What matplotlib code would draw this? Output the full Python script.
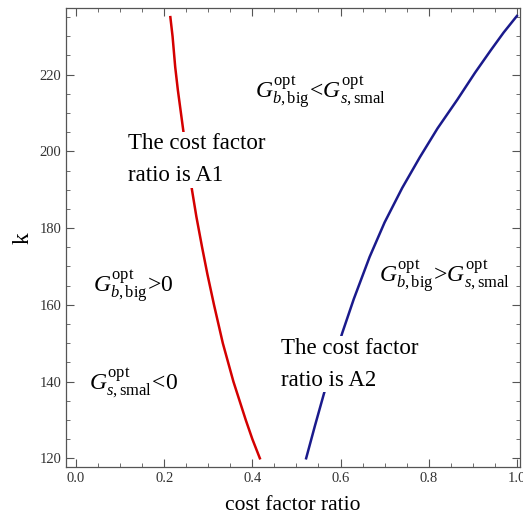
import numpy as np
import matplotlib
matplotlib.use("Agg")
import matplotlib.pyplot as plt
from matplotlib.ticker import MultipleLocator

plt.rcParams['font.family'] = 'Liberation Serif'
plt.rcParams['mathtext.fontset'] = 'custom'
plt.rcParams['mathtext.rm'] = 'Liberation Serif'
plt.rcParams['mathtext.it'] = 'Liberation Serif:italic'

# boundary where the cost factor ratio equals A1
a1_ratio = [0.214, 0.219, 0.225, 0.231, 0.238, 0.245, 0.253, 0.263, 0.273,
            0.286, 0.298, 0.313, 0.333, 0.357, 0.385, 0.400, 0.417]
a1_k = [235, 230, 222, 216, 210, 204, 198, 190, 183,
        175, 168, 160, 150, 140, 130, 125, 120]

# boundary where the cost factor ratio equals A2
a2_ratio = [0.522, 0.542, 0.562, 0.583, 0.604, 0.630, 0.666, 0.700,
            0.740, 0.780, 0.820, 0.865, 0.905, 0.941, 0.970, 1.000]
a2_k = [120, 128.5, 136.7, 145, 152.7, 161.5, 172.5, 181.5,
        190.5, 198.5, 206, 213.5, 220.5, 226.4, 231, 235.3]

fig = plt.figure(figsize=(5.23, 5.23), dpi=100)
ax = fig.add_axes([0.1262, 0.1065, 0.868, 0.8776])

ax.plot(a1_ratio, a1_k, color='#d40000', lw=1.8)
ax.plot(a2_ratio, a2_k, color='#1a1a8c', lw=1.8)

ax.set_xlim(-0.0227, 1.007)
ax.set_ylim(117.65, 237.3)

ax.xaxis.set_major_locator(MultipleLocator(0.2))
ax.xaxis.set_minor_locator(MultipleLocator(0.05))
ax.yaxis.set_major_locator(MultipleLocator(20))
ax.yaxis.set_minor_locator(MultipleLocator(5))
ax.xaxis.set_major_formatter(plt.FuncFormatter(lambda v, p: f"{v:.1f}"))
ax.tick_params(which='both', direction='in', top=True, right=True,
               color='#555555', labelcolor='#333333', labelsize=10.5)
ax.tick_params(which='major', length=6, width=0.8)
ax.tick_params(which='minor', length=3, width=0.6)
for s in ax.spines.values():
    s.set_color('#555555')
    s.set_linewidth(0.9)

ax.set_xlabel('cost factor ratio', fontsize=15.5, labelpad=8)
ax.set_ylabel('k', fontsize=17, labelpad=4)

box = dict(facecolor='white', edgecolor='none', pad=1)
ax.text(0.555, 215.5, r'$G_{b,\mathrm{big}}^{\mathrm{opt}}\!<\!G_{s,\mathrm{smal}}^{\mathrm{opt}}$',
        fontsize=17, ha='center', va='center')
ax.text(0.117, 197.8, 'The cost factor\nratio is A1', fontsize=16.5,
        ha='left', va='center', linespacing=1.7, bbox=box)
ax.text(0.130, 165, r'$G_{b,\mathrm{big}}^{\mathrm{opt}}\!>\!0$',
        fontsize=17, ha='center', va='center')
ax.text(0.130, 139.5, r'$G_{s,\mathrm{smal}}^{\mathrm{opt}}\!<\!0$',
        fontsize=17, ha='center', va='center')
ax.text(0.465, 144.5, 'The cost factor\nratio is A2', fontsize=16.5,
        ha='left', va='center', linespacing=1.7, bbox=box)
ax.text(0.835, 167.5, r'$G_{b,\mathrm{big}}^{\mathrm{opt}}\!>\!G_{s,\mathrm{smal}}^{\mathrm{opt}}$',
        fontsize=17, ha='center', va='center')

fig.savefig('out.png', dpi=100)
